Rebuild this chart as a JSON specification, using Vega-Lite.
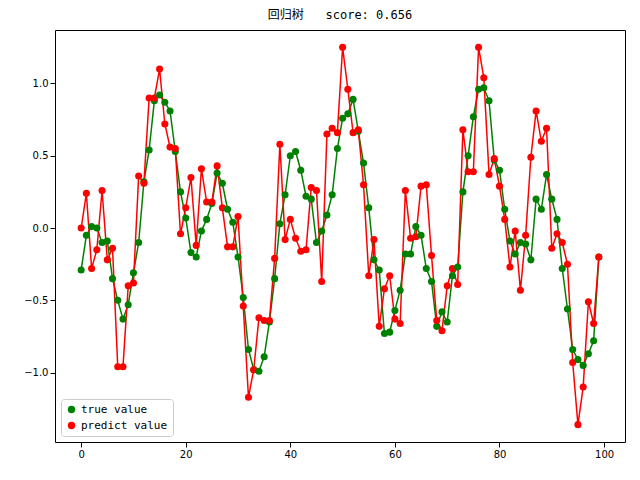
{
  "$schema": "https://vega.github.io/schema/vega-lite/v6.json",
  "autosize": {"type": "none"},
  "padding": {"left": 55, "top": 30, "right": 15, "bottom": 38},
  "width": 570,
  "height": 412,
  "title": {"text": "回归树\u00a0\u00a0\u00a0score:\u00a00.656", "font": "DejaVu Sans Mono, Noto Sans CJK SC", "fontSize": 12, "fontWeight": "normal", "offset": 8},
  "data": {"values": [
    {"x":0,"t":-0.29,"p":0.0},{"x":1,"t":-0.05,"p":0.24},{"x":2,"t":0.01,"p":-0.28},{"x":3,"t":0.0,"p":-0.15},{"x":4,"t":-0.1,"p":0.26},
    {"x":5,"t":-0.09,"p":-0.22},{"x":6,"t":-0.35,"p":-0.14},{"x":7,"t":-0.5,"p":-0.96},{"x":8,"t":-0.63,"p":-0.96},{"x":9,"t":-0.53,"p":-0.4},
    {"x":10,"t":-0.31,"p":-0.38},{"x":11,"t":-0.1,"p":0.36},{"x":12,"t":0.32,"p":0.31},{"x":13,"t":0.54,"p":0.9},{"x":14,"t":0.88,"p":0.9},
    {"x":15,"t":0.92,"p":1.1},{"x":16,"t":0.87,"p":0.72},{"x":17,"t":0.81,"p":0.56},{"x":18,"t":0.53,"p":0.55},{"x":19,"t":0.25,"p":-0.04},
    {"x":20,"t":0.07,"p":0.14},{"x":21,"t":-0.17,"p":0.35},{"x":22,"t":-0.2,"p":-0.12},{"x":23,"t":-0.02,"p":0.41},{"x":24,"t":0.06,"p":0.18},
    {"x":25,"t":0.17,"p":0.18},{"x":26,"t":0.38,"p":0.43},{"x":27,"t":0.31,"p":0.14},{"x":28,"t":0.13,"p":-0.13},{"x":29,"t":0.04,"p":-0.13},
    {"x":30,"t":-0.2,"p":0.08},{"x":31,"t":-0.48,"p":-0.54},{"x":32,"t":-0.84,"p":-1.17},{"x":33,"t":-0.98,"p":-0.98},{"x":34,"t":-0.99,"p":-0.62},
    {"x":35,"t":-0.89,"p":-0.64},{"x":36,"t":-0.65,"p":-0.64},{"x":37,"t":-0.35,"p":-0.21},{"x":38,"t":0.03,"p":0.58},{"x":39,"t":0.23,"p":-0.08},
    {"x":40,"t":0.5,"p":0.06},{"x":41,"t":0.53,"p":-0.07},{"x":42,"t":0.4,"p":-0.16},{"x":43,"t":0.22,"p":-0.15},{"x":44,"t":0.2,"p":0.28},
    {"x":45,"t":-0.1,"p":0.26},{"x":46,"t":-0.02,"p":-0.37},{"x":47,"t":0.09,"p":0.65},{"x":48,"t":0.23,"p":0.69},{"x":49,"t":0.55,"p":0.66},
    {"x":50,"t":0.76,"p":1.25},{"x":51,"t":0.79,"p":0.96},{"x":52,"t":0.89,"p":0.66},{"x":53,"t":0.67,"p":0.68},{"x":54,"t":0.45,"p":0.3},
    {"x":55,"t":0.14,"p":-0.33},{"x":56,"t":-0.22,"p":-0.08},{"x":57,"t":-0.29,"p":-0.68},{"x":58,"t":-0.73,"p":-0.42},{"x":59,"t":-0.72,"p":-0.33},
    {"x":60,"t":-0.57,"p":-0.63},{"x":61,"t":-0.43,"p":-0.66},{"x":62,"t":-0.18,"p":0.26},{"x":63,"t":-0.18,"p":-0.07},{"x":64,"t":0.01,"p":-0.06},
    {"x":65,"t":-0.05,"p":0.29},{"x":66,"t":-0.28,"p":0.3},{"x":67,"t":-0.37,"p":-0.19},{"x":68,"t":-0.68,"p":-0.64},{"x":69,"t":-0.58,"p":-0.71},
    {"x":70,"t":-0.65,"p":-0.4},{"x":71,"t":-0.33,"p":-0.28},{"x":72,"t":-0.27,"p":-0.39},{"x":73,"t":0.25,"p":0.68},{"x":74,"t":0.5,"p":0.39},
    {"x":75,"t":0.77,"p":0.39},{"x":76,"t":0.96,"p":1.25},{"x":77,"t":0.97,"p":1.04},{"x":78,"t":0.88,"p":0.37},{"x":79,"t":0.47,"p":0.48},
    {"x":80,"t":0.4,"p":0.29},{"x":81,"t":0.13,"p":0.06},{"x":82,"t":-0.09,"p":-0.27},{"x":83,"t":-0.18,"p":-0.02},{"x":84,"t":-0.1,"p":-0.43},
    {"x":85,"t":-0.11,"p":-0.05},{"x":86,"t":-0.22,"p":0.49},{"x":87,"t":0.2,"p":0.81},{"x":88,"t":0.13,"p":0.6},{"x":89,"t":0.37,"p":0.69},
    {"x":90,"t":0.2,"p":-0.14},{"x":91,"t":0.06,"p":-0.04},{"x":92,"t":-0.28,"p":-0.1},{"x":93,"t":-0.56,"p":-0.25},{"x":94,"t":-0.84,"p":-0.93},
    {"x":95,"t":-0.91,"p":-1.36},{"x":96,"t":-0.95,"p":-1.1},{"x":97,"t":-0.87,"p":-0.51},{"x":98,"t":-0.78,"p":-0.66},{"x":99,"t":-0.2,"p":-0.2}
  ]},
  "transform": [{"fold": ["t", "p"], "as": ["key", "value"]},
    {"calculate": "datum.key == 't' ? 'true value' : 'predict value'", "as": "series"}],
  "encoding": {
    "x": {"field": "x", "type": "quantitative", "scale": {"domain": [-5, 104], "nice": false, "zero": false},
      "axis": {"values": [0,20,40,60,80,100], "title": null, "grid": false, "labelFont": "DejaVu Sans", "labelFontSize": 10, "labelColor": "black", "tickColor": "black", "domain": false}},
    "y": {"field": "value", "type": "quantitative", "scale": {"domain": [-1.48, 1.37], "nice": false},
      "axis": {"values": [-1,-0.5,0,0.5,1], "format": ".1f", "title": null, "grid": false, "labelFont": "DejaVu Sans", "labelFontSize": 10, "labelColor": "black", "tickColor": "black", "domain": false}},
    "color": {"field": "series", "type": "nominal",
      "scale": {"domain": ["true value", "predict value"], "range": ["#008000", "#ff0000"]},
      "legend": {"title": null, "orient": "bottom-left", "offset": 6, "labelFont": "DejaVu Sans Mono", "labelFontSize": 11, "symbolType": "circle", "symbolSize": 55, "symbolStrokeWidth": 0,
        "fillColor": "white", "strokeColor": "#cccccc", "padding": 5, "cornerRadius": 3, "rowPadding": 4}}
  },
  "layer": [
    {"mark": {"type": "line", "strokeWidth": 1.5}},
    {"mark": {"type": "circle", "size": 50, "opacity": 1}}
  ],
  "config": {"view": {"stroke": "black", "strokeWidth": 1}, "background": "white"}
}
